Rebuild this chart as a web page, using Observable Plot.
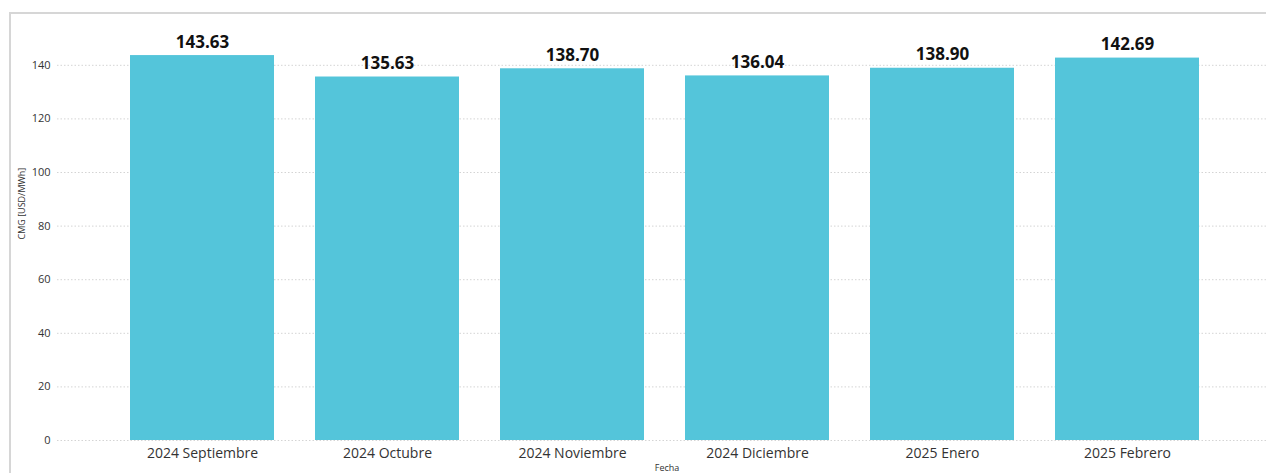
<!DOCTYPE html>
<html>
<head>
<meta charset="utf-8">
<script src="https://cdn.jsdelivr.net/npm/d3@7"></script>
<script src="https://cdn.jsdelivr.net/npm/@observablehq/plot@0.6"></script>
<style>
  html, body { margin: 0; padding: 0; background: #fff; width: 1266px; height: 473px; overflow: hidden; }
  #frame { position: absolute; left: 9px; top: 12px; right: -5px; bottom: -5px;
           border-left: 2px solid #d6d6d6; border-top: 2px solid #d6d6d6; }
  #chart { position: absolute; left: 0; top: 0; }
  #chart svg { overflow: visible; }
</style>
</head>
<body>
<div id="frame"></div>
<div id="chart"></div>
<script>
const categories = ["2024 Septiembre", "2024 Octubre", "2024 Noviembre", "2024 Diciembre", "2025 Enero", "2025 Febrero"];
const values = [143.63, 135.63, 138.70, 136.04, 138.90, 142.69];
const yTicks = [0, 20, 40, 60, 80, 100, 120, 140];

const data = categories.map((c, i) => ({fecha: c, cmg: values[i]}));
const font = "'Open Sans', 'Noto Sans', sans-serif";

const chart = Plot.plot({
  width: 1266,
  height: 473,
  marginLeft: 57,
  marginRight: 0,
  marginTop: 38,
  marginBottom: 33,
  style: {fontFamily: font, background: "transparent", overflow: "visible"},
  x: {domain: categories, range: [89, 1241], padding: 0.22, label: null},
  y: {domain: [0, 150], label: null},
  marks: [
    Plot.ruleY(yTicks, {stroke: "#d4d4d4", strokeDasharray: "1.5,2", strokeWidth: 1}),
    Plot.barY(data, {x: "fecha", y: "cmg", fill: "#54C5DA"}),
    Plot.text(data, {x: "fecha", y: "cmg", text: d => d.cmg.toFixed(2), lineAnchor: "bottom", dy: -8,
      fontSize: 17, fontWeight: "bold", fill: "#111"}),
    Plot.axisY(yTicks, {tickSize: 0, tickPadding: 7, fontSize: 11, color: "#333", label: null}),
    Plot.axisX({tickSize: 0, tickPadding: 8, fontSize: 14, color: "#333", label: null}),
    Plot.text(["CMG [USD/MWh]"], {frameAnchor: "left", dx: -35, rotate: -90, fontSize: 9, fill: "#333"}),
    Plot.text(["Fecha"], {frameAnchor: "bottom", dy: 28, dx: 5, fontSize: 9, fill: "#333", lineAnchor: "middle"})
  ]
});
document.getElementById("chart").appendChild(chart);
</script>
</body>
</html>
